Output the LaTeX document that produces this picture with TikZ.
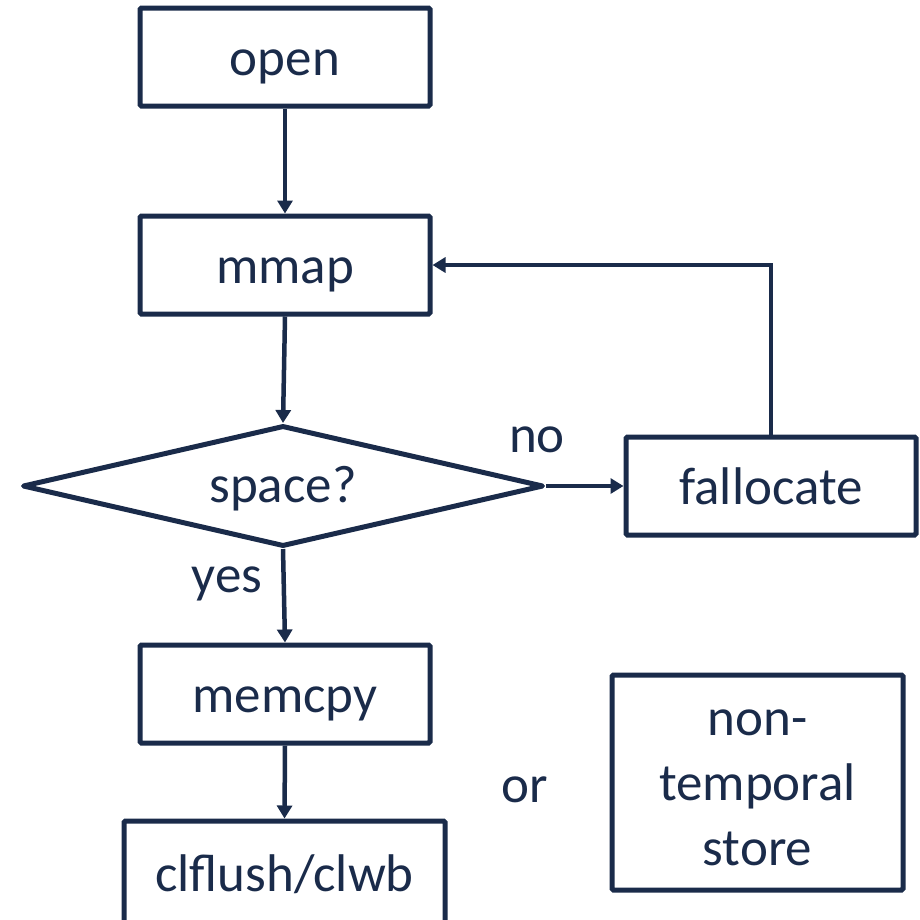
\documentclass[tikz,border=0pt]{standalone}
\usepackage{fontspec}
\setmainfont{Carlito}
\usetikzlibrary{shapes.geometric,arrows.meta}
\definecolor{navy}{RGB}{26,43,74}
\tikzset{
  every node/.style={text=navy, font=\fontsize{53}{65}\selectfont},
  txt/.style={text height=48pt, text depth=12pt, inner sep=0pt},
  box/.style={draw=navy, line width=5pt, rounded corners=1.5pt, minimum width=290pt, minimum height=98pt, inner sep=0pt, txt},
  dia/.style={draw=navy, line width=5pt, line join=round, diamond, minimum width=521pt, minimum height=121pt, inner sep=0pt},
  conn/.style={draw=navy, line width=4.5pt, -{Triangle[length=13pt,width=15pt]}},
  lbl/.style={txt}
}
\begin{document}
\begin{tikzpicture}[x=1pt,y=-1pt]
\useasboundingbox (0,0) rectangle (920,919);
\node[box] (open) at (285,57) {open};
\node[box] (mmap) at (285,265) {mmap};
\node[dia] (space) at (283,486) {};
\node[lbl] (spacet) at (283,484) {space?};
\node[box] (fall) at (771,486) {fallocate};
\node[box] (memcpy) at (285,694) {memcpy};
\node[box, minimum width=321pt, minimum height=104pt] (clf) at (284.5,873) {clflush/clwb};
\node[draw=navy, line width=5pt, rounded corners=1.5pt, minimum width=291pt, minimum height=215pt, inner sep=0pt] (nts) at (757.5,782.5) {};
\node[align=center, inner sep=0pt] (ntst) at (757.5,788) {non-\\temporal\\store};
\node[lbl] (no) at (537,434) {no};
\node[lbl] (yes) at (227,574) {yes};
\node[lbl] (or) at (525,784) {or};
\draw[conn] (open.south) -- (mmap.north);
\draw[conn] (mmap.south) -- (space.north);
\draw[conn] (space.south) -- (memcpy.north);
\draw[conn] (memcpy.south) -- (clf.north);
\draw[conn] (space.east) -- (fall.west);
\draw[conn] (fall.north) |- (mmap.east);
\end{tikzpicture}
\end{document}
